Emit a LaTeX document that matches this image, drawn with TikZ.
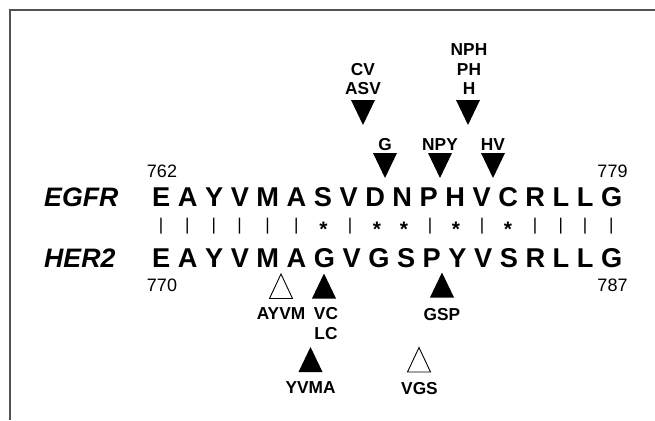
\documentclass[tikz,border=0pt]{standalone}
\usepackage{fontspec}
\setmainfont{Liberation Sans}
\begin{document}
\begin{tikzpicture}[x=1pt,y=-1pt,
  seq/.style={font=\fontsize{27.2}{32}\selectfont\bfseries, inner sep=0pt, anchor=base west},
  gene/.style={font=\fontsize{26.7}{32}\selectfont\bfseries\itshape, inner sep=0pt, anchor=base west},
  num/.style={font=\fontsize{18}{20}\selectfont, inner sep=0pt, anchor=base},
  lab/.style={font=\fontsize{17.3}{19.5}\selectfont\bfseries, inner sep=0pt, anchor=base},
  barsym/.style={font=\fontsize{17}{19}\selectfont, inner sep=0pt, anchor=center},
  astsym/.style={font=\fontsize{21}{23}\selectfont\bfseries, inner sep=0pt, anchor=base},
  framepen/.style={draw=black!68, line width=2pt},
  dtri/.pic={\fill (-12,0) -- (12,0) -- (0,25) -- cycle;},
  utri/.pic={\fill (-12,0) -- (12,0) -- (0,-25) -- cycle;},
  otri/.pic={\draw[fill=white, line width=0.9pt, line join=miter] (-11.5,0) -- (11.5,0) -- (0,-24.5) -- cycle;}
]
\useasboundingbox (0,0) rectangle (655,420);
\fill[white] (0,0) rectangle (655,420);
\coordinate (fr1) at (655,10.5);
\coordinate (fr2) at (9.5,10.5);
\coordinate (fr3) at (9.5,420);
\draw[framepen] (fr1) -- (fr2) -- (fr3);

% gene names
\node[gene] (egfrname) at (44,206) {EGFR};
\node[gene] (her2name) at (44,267) {HER2};

% sequences
\node[seq] (egfrseq) at (152,206.5) {E A Y V M A S V D N P H V C R L L G};
\node[seq] (her2seq) at (152,267) {E A Y V M A G V G S P Y V S R L L G};

% residue numbers
\node[num] (n762) at (162,177.5) {762};
\node[num] (n779) at (612.5,177.5) {779};
\node[num] (n770) at (162,291) {770};
\node[num] (n787) at (612.5,291) {787};

% alignment symbols
\foreach \x [count=\i] in {161,187.4,213.9,239.6,267.6,296.3,350,430,482,535.1,560.8,585,611.4}{
  \node[barsym] (bar\i) at (\x,226) {|};
}
\foreach \x [count=\i] in {323.5,377,404,456,508}{
  \node[astsym] (ast\i) at (\x,236) {*};
}

% insertion triangles above EGFR
\pic at (363,100) {dtri};
\pic at (468,100) {dtri};
\pic at (385,153) {dtri};
\pic at (440,153) {dtri};
\pic at (493,153) {dtri};

\node[lab] (lCV) at (363,75) {CV};
\node[lab] (lASV) at (363,94.5) {ASV};
\node[lab] (lNPH) at (469,55.5) {NPH};
\node[lab] (lPH) at (469,75) {PH};
\node[lab] (lH) at (469,94.5) {H};
\node[lab] (lG) at (385,150) {G};
\node[lab] (lNPY) at (440,150) {NPY};
\node[lab] (lHV) at (493,150) {HV};

% triangles below HER2
\pic at (281,298.5) {otri};
\pic at (324,298.5) {utri};
\pic at (442,297.5) {utri};
\pic at (310.5,372) {utri};
\pic at (419,372) {otri};

\node[lab] (lAYVM) at (281,319.5) {AYVM};
\node[lab] (lVC) at (326,319.5) {VC};
\node[lab] (lLC) at (326,339) {LC};
\node[lab] (lGSP) at (442,320) {GSP};
\node[lab] (lYVMA) at (310.5,393.5) {YVMA};
\node[lab] (lVGS) at (419.5,394.5) {VGS};
\end{tikzpicture}
\end{document}
